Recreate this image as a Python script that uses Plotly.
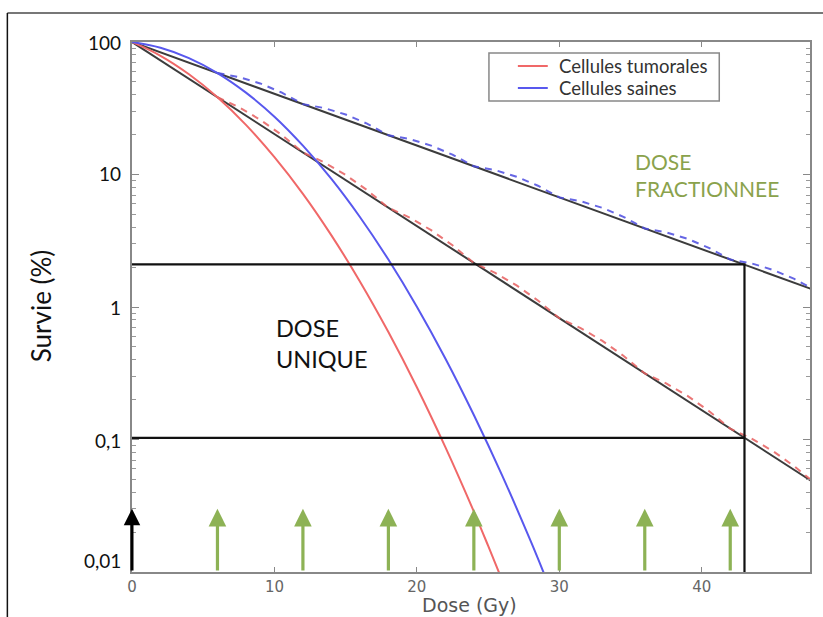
import math
import plotly.graph_objects as go

# Single-dose survival curves (dose in Gy, survival in %)
dose_single_tumor = [0, 2, 4, 6, 8, 10, 12, 14, 16, 18, 20, 22, 24, 25, 26]
surv_single_tumor = [100, 78.7, 57.1, 38.3, 23.7, 13.5, 7.14, 3.47, 1.56, 0.647,
                     0.248, 0.0876, 0.0286, 0.0158, 0.0086]

dose_single_healthy = [0, 2, 4, 6, 8, 10, 12, 14, 16, 18, 20, 22, 24, 26, 28, 29]
surv_single_healthy = [100, 90.5, 75.6, 58.3, 41.5, 27.3, 16.5, 9.26, 4.78, 2.28,
                       1.005, 0.409, 0.153, 0.0531, 0.0170, 0.0093]

# Fractionated survival (6 Gy fractions), dashed
dose_frac = [6, 7.5, 9, 10.5, 12, 13.5, 15, 16.5, 18, 19.5, 21, 22.5, 24, 25.5, 27,
             28.5, 30, 31.5, 33, 34.5, 36, 37.5, 39, 40.5, 42, 43.5, 45, 46.5, 48]
surv_frac_tumor = [38.29, 32.22, 25.92, 19.94, 14.66, 12.34, 9.926, 7.635, 5.613,
                   4.724, 3.801, 2.923, 2.149, 1.808, 1.455, 1.119, 0.823, 0.6925,
                   0.5572, 0.4285, 0.3151, 0.2652, 0.2134, 0.1641, 0.1207, 0.1015,
                   0.0817, 0.0628, 0.0463]
surv_frac_healthy = [58.27, 54.47, 48.68, 41.59, 33.96, 31.74, 28.37, 24.23, 19.79,
                     18.50, 16.53, 14.12, 11.53, 10.78, 9.630, 8.229, 6.721, 6.282,
                     5.613, 4.795, 3.916, 3.661, 3.271, 2.794, 2.282, 2.133, 1.906,
                     1.629, 1.330]

# Straight exponential envelopes
dose_env = [0, 48]
surv_env_tumor = [100, 0.0463]
surv_env_healthy = [100, 1.33]

# Reading lines at the end of treatment
dose_end = 43
level_healthy_end = 2.1
level_tumor_end = 0.103

# Fraction delivery times
dose_fractions = [6, 12, 18, 24, 30, 36, 42]
dose_start = 0
arrow_low, arrow_high = 0.01, 0.03

# Labels
series_names = ["Cellules tumorales", "Cellules saines"]
y_tick_vals = [100, 10, 1, 0.1, 0.01]
y_tick_text = ["100", "10", "1", "0,1", "0,01"]
y_minor_vals = [m * 10.0 ** e for e in (-2, -1, 0, 1) for m in range(2, 10)]
x_tick_vals = [0, 10, 20, 30, 40]

RED = "#f06868"
BLUE = "#5858ee"
RED_D = "#e86060"
BLUE_D = "#4c4ce0"
DARK = "#3c3c3c"
GREEN = "#8db255"
GREEN_TXT = "#8aa24c"
FONT = "Lato"

W, H = 823, 617
L, R, T, B = 132, 11, 42, 45
PW, PH = W - L - R, H - T - B


def px(xp):
    return (xp - L) / PW


def py(yp):
    return (H - B - yp) / PH


fig = go.Figure()

fig.add_trace(go.Scatter(x=dose_env, y=surv_env_healthy, mode="lines",
                         line=dict(color=DARK, width=2), showlegend=False))
fig.add_trace(go.Scatter(x=dose_env, y=surv_env_tumor, mode="lines",
                         line=dict(color=DARK, width=2), showlegend=False))
fig.add_trace(go.Scatter(x=dose_frac, y=surv_frac_healthy, mode="lines",
                         line=dict(color=BLUE_D, width=2, dash="7px,6px"),
                         opacity=0.85, showlegend=False))
fig.add_trace(go.Scatter(x=dose_frac, y=surv_frac_tumor, mode="lines",
                         line=dict(color=RED_D, width=2, dash="7px,6px"),
                         opacity=0.85, showlegend=False))
fig.add_trace(go.Scatter(x=dose_single_tumor, y=surv_single_tumor, mode="lines",
                         line=dict(color=RED, width=2, shape="spline"),
                         name=series_names[0], showlegend=False))
fig.add_trace(go.Scatter(x=dose_single_healthy, y=surv_single_healthy, mode="lines",
                         line=dict(color=BLUE, width=2, shape="spline"),
                         name=series_names[1], showlegend=False))

# End-of-treatment reading lines
fig.add_trace(go.Scatter(x=[0, dose_end, dose_end], y=[level_healthy_end, level_healthy_end, arrow_low],
                         mode="lines", line=dict(color="#111", width=2.2), showlegend=False))
fig.add_trace(go.Scatter(x=[0, dose_end], y=[level_tumor_end, level_tumor_end],
                         mode="lines", line=dict(color="#111", width=2.2), showlegend=False))

# Invisible trace carrying the minor-tick axis
fig.add_trace(go.Scatter(x=[0], y=[1], yaxis="y2", mode="markers",
                         marker=dict(opacity=0), showlegend=False, hoverinfo="skip"))

annotations = []
for d in dose_fractions:
    annotations.append(dict(x=d, y=math.log10(arrow_high), ax=d, ay=math.log10(arrow_low),
                            xref="x", yref="y", axref="x", ayref="y", showarrow=True,
                            arrowhead=2, arrowsize=1.1, arrowwidth=3.2, arrowcolor=GREEN,
                            text=""))
annotations.append(dict(x=dose_start, y=math.log10(arrow_high), ax=dose_start,
                        ay=math.log10(arrow_low), xref="x", yref="y", axref="x", ayref="y",
                        showarrow=True, arrowhead=2, arrowsize=1.1, arrowwidth=3,
                        arrowcolor="#000", text=""))

# Y labels
label_y_px = [42, 174, 307, 440, 560]
for v, t, yp in zip(y_tick_vals, y_tick_text, label_y_px):
    annotations.append(dict(x=px(123), y=py(yp), xref="paper", yref="paper", text=t,
                            showarrow=False, xanchor="right", yanchor="middle",
                            font=dict(family=FONT, size=19, color="#111")))

annotations.append(dict(x=px(41), y=py(306), xref="paper", yref="paper", text="Survie (%)",
                        textangle=-90, showarrow=False, xanchor="center", yanchor="middle",
                        font=dict(family=FONT, size=26, color="#111")))
annotations.append(dict(x=px(274), y=py(343), xref="paper", yref="paper",
                        text="DOSE<br>UNIQUE", showarrow=False, align="left",
                        xanchor="left", yanchor="middle",
                        font=dict(family=FONT, size=23.5, color="#111")))
annotations.append(dict(x=px(634), y=py(175), xref="paper", yref="paper",
                        text="DOSE<br>FRACTIONNEE", showarrow=False, align="left",
                        xanchor="left", yanchor="middle",
                        font=dict(family=FONT, size=21, color=GREEN_TXT)))
annotations.append(dict(x=px(470), y=py(605), xref="paper", yref="paper",
                        text="Dose (Gy)", showarrow=False, xanchor="center",
                        yanchor="middle",
                        font=dict(family="DejaVu Sans", size=19, color="#555")))

# Legend box drawn by hand
legend_rows_px = [66, 88]
legend_colors = [RED, BLUE]
shapes = [
    dict(type="line", xref="paper", yref="paper", x0=px(7), x1=px(W + 5), y0=py(13), y1=py(13),
         line=dict(color="#777", width=2)),
    dict(type="line", xref="paper", yref="paper", x0=px(7), x1=px(7), y0=py(13), y1=py(H + 5),
         line=dict(color="#111", width=1.5)),
    dict(type="rect", xref="paper", yref="paper", x0=px(490), x1=px(721), y0=py(53), y1=py(101),
         line=dict(color="#888", width=1.5), fillcolor="white", layer="above"),
]
for name, col, yr in zip(series_names, legend_colors, legend_rows_px):
    shapes.append(dict(type="line", xref="paper", yref="paper", x0=px(519), x1=px(549),
                       y0=py(yr), y1=py(yr), line=dict(color=col, width=2), layer="above"))
    annotations.append(dict(x=px(558), y=py(yr), xref="paper", yref="paper", text=name,
                            showarrow=False, xanchor="left", yanchor="middle",
                            font=dict(family=FONT, size=18.5, color="#333")))

fig.update_layout(
    width=W, height=H,
    margin=dict(l=L, r=R, t=T, b=B),
    paper_bgcolor="white", plot_bgcolor="white",
    annotations=annotations, shapes=shapes, showlegend=False,
    xaxis=dict(range=[0, 47.6], tickvals=x_tick_vals, ticks="inside", ticklen=5,
               tickcolor="#888", showline=True, linecolor="#888", linewidth=1.5,
               mirror="ticks", showgrid=False, zeroline=False,
               tickfont=dict(family="DejaVu Sans", size=15, color="#666")),
    yaxis=dict(type="log", range=[-2, 2], tickvals=y_tick_vals, ticks="inside", ticklen=7,
               tickcolor="#888", showline=True, linecolor="#888", linewidth=1.5,
               mirror="ticks", showgrid=False, zeroline=False, showticklabels=False),
    yaxis2=dict(type="log", range=[-2, 2], overlaying="y", side="left",
                tickvals=y_minor_vals, ticks="inside", ticklen=4, tickcolor="#999",
                showline=True, linecolor="#888", linewidth=1.5, mirror="ticks",
                showgrid=False, zeroline=False, showticklabels=False),
)

fig.write_html("out.html")
